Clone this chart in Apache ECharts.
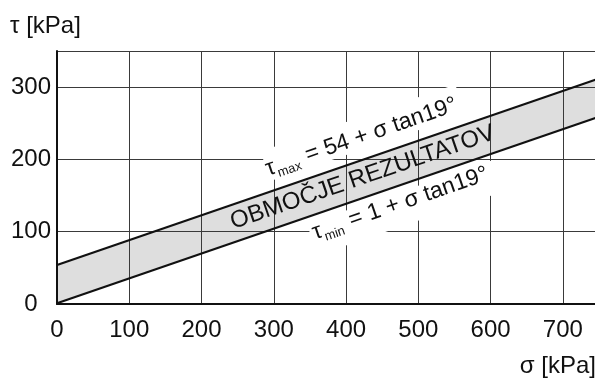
<!DOCTYPE html>
<html>
<head>
<meta charset="utf-8">
<script src="https://cdn.jsdelivr.net/npm/echarts@6/dist/echarts.min.js"></script>
<style>
  html, body { margin: 0; padding: 0; background: #fff; overflow: hidden; }
  #chart { width: 600px; height: 380px; }
</style>
</head>
<body>
<div id="chart"></div>
<script>
// Shear strength envelope: tau = c + sigma * tan(phi)
const sigma = [0, 750];          // normal stress [kPa]
const tauMax = [54, 312];        // upper bound: 54 + sigma tan19°
const tauMin = [1, 259];         // lower bound:  1 + sigma tan19°
const sigmaRange = [0, 750];
const tauRange = [0, 350];

const FONT = 'Liberation Sans, Arial, sans-serif';
const INK = '#111';
const SIZE = 24;

// Annotation anchors in axis units (text centre); box = white mask [x0, y0, x1, y1] in rotated px
const notes = [
  { at: [421, 231], along: 'max', key: 'max',  size: 23, box: [-100, -19, 106, 12] },
  { at: [423, 175], along: 'min', key: 'zone', size: 24, box: null },
  { at: [475, 139], along: 'min', key: 'min',  size: 23, box: [-95, -11, 102, 22] }
];
const noteText = {
  max: '{t|τ}{s|max}{t| = 54 + σ tan19°}',
  zone: '{t|OBMOČJE REZULTATOV}',
  min: '{t|τ}{s|min}{t| = 1 + σ tan19°}'
};

const chart = echarts.init(document.getElementById('chart'), null, { renderer: 'canvas' });

const pairs = (ys) => sigma.map((s, i) => [s, ys[i]]);

const option = {
  animation: false,
  backgroundColor: '#fff',
  grid: { left: 57, right: 1, top: 51, bottom: 76, containLabel: false },
  xAxis: {
    type: 'value', min: sigmaRange[0], max: sigmaRange[1], interval: 100, z: 2,
    axisLine: { show: true, lineStyle: { color: INK, width: 2 } },
    axisTick: { show: false },
    splitLine: { show: true, lineStyle: { color: '#3a3a3a', width: 1 } },
    axisLabel: { color: INK, fontSize: SIZE, fontFamily: FONT, margin: 14, showMaxLabel: false }
  },
  yAxis: {
    type: 'value', min: tauRange[0], max: tauRange[1], interval: 100, z: 2,
    axisLine: { show: true, lineStyle: { color: INK, width: 2 } },
    axisTick: { show: false },
    splitLine: { show: true, lineStyle: { color: '#3a3a3a', width: 1 } },
    axisLabel: { color: INK, fontSize: SIZE, fontFamily: FONT, margin: 26, align: 'center', showMaxLabel: false }
  },
  graphic: [
    { type: 'text', left: 10, top: 14, z: 10,
      style: { text: 'τ [kPa]', fontSize: SIZE, fontFamily: FONT, fill: INK } },
    { type: 'text', right: 4, top: 354, z: 10,
      style: { text: 'σ [kPa]', fontSize: SIZE, fontFamily: FONT, fill: INK } }
  ],
  series: [
    {
      // shaded band between the two envelopes
      type: 'custom', z: 1, silent: true,
      data: [0],
      renderItem: function (params, api) {
        const pts = [
          api.coord([sigma[0], tauMin[0]]),
          api.coord([sigma[0], tauMax[0]]),
          api.coord([sigma[1], tauMax[1]]),
          api.coord([sigma[1], tauMin[1]])
        ];
        return { type: 'polygon', shape: { points: pts }, style: { fill: '#dedede' } };
      }
    },
    {
      // rotated annotations following the envelope slope
      type: 'custom', z: 3, silent: true,
      data: notes.map(n => n.at),
      renderItem: function (params, api) {
        const n = notes[params.dataIndex];
        const ys = n.along === 'max' ? tauMax : tauMin;
        const a = api.coord([sigma[0], ys[0]]);
        const b = api.coord([sigma[1], ys[1]]);
        const rot = Math.atan2(a[1] - b[1], b[0] - a[0]);
        const p = api.coord([api.value(0), api.value(1)]);
        const children = [];
        if (n.box) {
          children.push({
            type: 'rect',
            shape: { x: n.box[0], y: n.box[1], width: n.box[2] - n.box[0], height: n.box[3] - n.box[1] },
            style: { fill: '#fff' }
          });
        }
        children.push({
          type: 'text',
          style: {
            text: noteText[n.key],
            x: 0, y: 0,
            align: 'center', verticalAlign: 'middle',
            rich: {
              t: { fontSize: n.size, fontFamily: FONT, fill: INK, color: INK, lineHeight: 26 },
              s: { fontSize: 13, fontFamily: FONT, fill: INK, color: INK, verticalAlign: 'top', lineHeight: 12, padding: [14, 1, 0, 1] }
            }
          }
        });
        return { type: 'group', x: p[0], y: p[1], rotation: rot, children: children };
      }
    },
    {
      name: 'τmax', type: 'line', z: 4, symbol: 'none', silent: true,
      data: pairs(tauMax),
      lineStyle: { color: INK, width: 2.2 }
    },
    {
      name: 'τmin', type: 'line', z: 4, symbol: 'none', silent: true,
      data: pairs(tauMin),
      lineStyle: { color: INK, width: 2.2 }
    }
  ]
};

chart.setOption(option);
</script>
</body>
</html>
